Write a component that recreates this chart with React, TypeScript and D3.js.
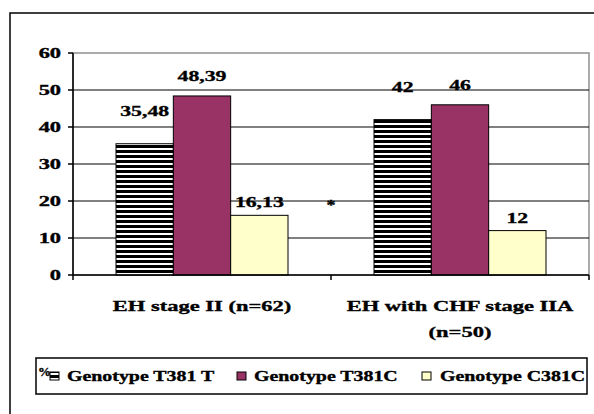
import React from "react";
import * as d3 from "d3";

const categories = ["EH stage II (n=62)", "EH with CHF stage IIA (n=50)"];
const categoryLines = [["EH stage II (n=62)"], ["EH with CHF stage IIA", "(n=50)"]];
const seriesNames = ["Genotype T381T", "Genotype T381C", "Genotype C381C"];
const seriesLegendLabels = ["Genotype T381 T", "Genotype T381C", "Genotype C381C"];
const valuesT381T = [35.48, 42];
const valuesT381C = [48.39, 46];
const valuesC381C = [16.13, 12];
const valueLabels = [["35,48", "42"], ["48,39", "46"], ["16,13", "12"]];
const yTicks = [0, 10, 20, 30, 40, 50, 60];

const seriesValues = [valuesT381T, valuesT381C, valuesC381C];

export default function App() {
  const W = 594, H = 414;
  const left = 73, right = 589, top = 53, bottom = 275;
  const y = d3.scaleLinear().domain([0, 60]).range([bottom, top]);
  const x0 = d3.scaleBand().domain(categories).range([left, right]).padding(0);
  const x1 = d3.scaleBand().domain(seriesNames).range([0, x0.bandwidth()]).paddingInner(0).paddingOuter(0.75);
  const fills = ["url(#hstripes)", "#993366", "#FFFFCC"];
  const labelOffsets = [33, 20, 13];

  const txt = (key: any, x: number, yy: number, s: string, size: number, sx: number, anchor: string = "middle") => (
    <text key={key} transform={`translate(${x},${yy}) scale(${sx},1)`} textAnchor={anchor}
      fontFamily="Liberation Serif" fontWeight="bold" fontSize={size} fill="#000"
      stroke="#000" strokeWidth={0.35}>{s}</text>
  );

  const legendX = [50, 237, 422];
  const legendTextX = [67, 254, 440];

  return (
    <svg width={W} height={H} style={{ position: "absolute", left: 0, top: 0, background: "#fff" }}>
      <defs>
        <pattern id="hstripes" patternUnits="userSpaceOnUse" width="8" height="5">
          <rect x="0" y="0" width="8" height="5" fill="#fff" />
          <rect x="0" y="0" width="8" height="3" fill="#000" />
        </pattern>
      </defs>
      <rect x={0} y={0} width={W} height={H} fill="#fff" />
      <rect x={10} y={13} width={600} height={420} fill="none" stroke="#000" strokeWidth={1.5} />
      <rect x={left} y={top} width={right - left} height={bottom - top} fill="none" stroke="#909090" strokeWidth={1.5} />
      {yTicks.filter(t => t > 0 && t < 60).map(t => (
        <line key={"g" + t} x1={left} x2={right} y1={y(t)} y2={y(t)} stroke="#000" strokeWidth={1} />
      ))}
      <line x1={left} x2={left} y1={top} y2={bottom} stroke="#000" strokeWidth={1.5} />
      {yTicks.map(t => (
        <g key={"t" + t}>
          <line x1={left - 5} x2={left} y1={y(t)} y2={y(t)} stroke="#000" strokeWidth={1.5} />
          {txt("tl" + t, 61, y(t) + 5, String(t), 14, 1.6, "end")}
        </g>
      ))}
      {seriesValues.map((vals, si) => vals.map((v, ci) => {
        const bx = x0(categories[ci])! + x1(seriesNames[si])!;
        return (
          <rect key={`b${si}-${ci}`} x={bx} y={y(v)} width={x1.bandwidth()} height={bottom - y(v)}
            fill={fills[si]} stroke="#000" strokeWidth={1} />
        );
      }))}
      <line x1={left} x2={right} y1={bottom} y2={bottom} stroke="#000" strokeWidth={1.5} />
      {[left, ...categories.map(c => x0(c)! + x0.bandwidth())].map((xx, i) => (
        <line key={"xt" + i} x1={xx} x2={xx} y1={bottom} y2={bottom + 5} stroke="#000" strokeWidth={1.5} />
      ))}
      {seriesValues.map((vals, si) => vals.map((v, ci) => {
        const bx = x0(categories[ci])! + x1(seriesNames[si])! + x1.bandwidth() / 2;
        return txt(`v${si}-${ci}`, bx, y(v) - labelOffsets[si] + 5, valueLabels[si][ci], 15, 1.45);
      }))}
      {txt("ast", x0(categories[1])!, y(20) + 9, "*", 15, 1.2)}
      {categoryLines.map((lines, ci) => lines.map((ln, li) =>
        txt(`c${ci}-${li}`, x0(categories[ci])! + x0.bandwidth() / 2, 311 + li * 26, ln, 15, 1.5)
      ))}
      <rect x={36} y={358} width={551} height={36} fill="#fff" stroke="#000" strokeWidth={1.5} />
      {txt("pct", 38, 376, "%", 13, 1.0, "start")}
      {seriesNames.map((s, i) => (
        <g key={"lg" + i}>
          <rect x={legendX[i]} y={372} width={9} height={8} fill={fills[i]} stroke="#000" strokeWidth={1} />
          {txt("lt" + i, legendTextX[i], 381, seriesLegendLabels[i], 14, 1.42, "start")}
        </g>
      ))}
    </svg>
  );
}
